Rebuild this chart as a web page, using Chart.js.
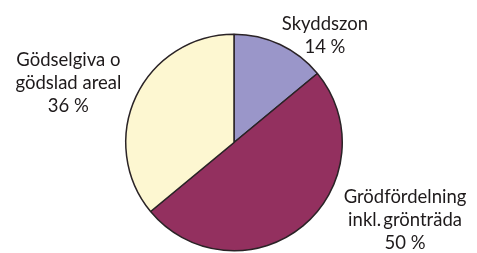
<!DOCTYPE html>
<html>
<head>
<meta charset="utf-8">
<script src="https://cdn.jsdelivr.net/npm/chart.js@4/dist/chart.umd.min.js"></script>
<style>
  html, body { margin: 0; padding: 0; background: #fff; }
  #wrap { width: 477px; height: 253px; }
</style>
</head>
<body>
<div id="wrap"><canvas id="pieCanvas"></canvas></div>
<script>
// slices, clockwise from 12 o'clock
var categories = ["Skyddszon", "Grödfördelning inkl. grönträda", "Gödselgiva o gödslad areal"];
var values = [14, 50, 36];
var labelLines = [
    ["Skyddszon", "14 %"],
    ["Grödfördelning", "inkl.\u2009grönträda", "50 %"],
    ["Gödselgiva o", "gödslad areal", "36 %"]
];
// where each label sits, in multiples of the pie radius from its centre
var labelOffsets = [[0.84, -0.99], [1.58, 0.72], [-1.53, -0.55]];
var colors = ['#9a96c9', '#93305f', '#fdf7d1'];

var outsideLabels = {
    id: 'outsideLabels',
    afterDraw: function (chart) {
        var ctx = chart.ctx;
        var arcs = chart.getDatasetMeta(0).data;
        if (!arcs.length) return;
        var cx = arcs[0].x, cy = arcs[0].y, r = arcs[0].outerRadius;
        var lineH = 23;
        ctx.save();
        ctx.fillStyle = '#1e1a1b';
        ctx.font = '18.5px Lato';
        ctx.textAlign = 'center';
        ctx.textBaseline = 'middle';
        labelLines.forEach(function (lines, i) {
            var x = cx + labelOffsets[i][0] * r;
            var y = cy + labelOffsets[i][1] * r - (lines.length - 1) * lineH / 2;
            lines.forEach(function (t, j) {
                ctx.fillText(t, x, y + j * lineH);
            });
        });
        ctx.restore();
    }
};

var pieChart = new Chart(document.getElementById('pieCanvas'), {
    type: 'pie',
    data: {
        labels: categories,
        datasets: [{
            data: values,
            backgroundColor: colors,
            borderColor: '#2a2326',
            borderWidth: 1.5
        }]
    },
    options: {
        responsive: true,
        maintainAspectRatio: false,
        animation: false,
        layout: { padding: { top: 33, bottom: 1, left: 125, right: 134 } },
        plugins: {
            legend: { display: false },
            tooltip: { enabled: false }
        }
    },
    plugins: [outsideLabels]
});
</script>
</body>
</html>
